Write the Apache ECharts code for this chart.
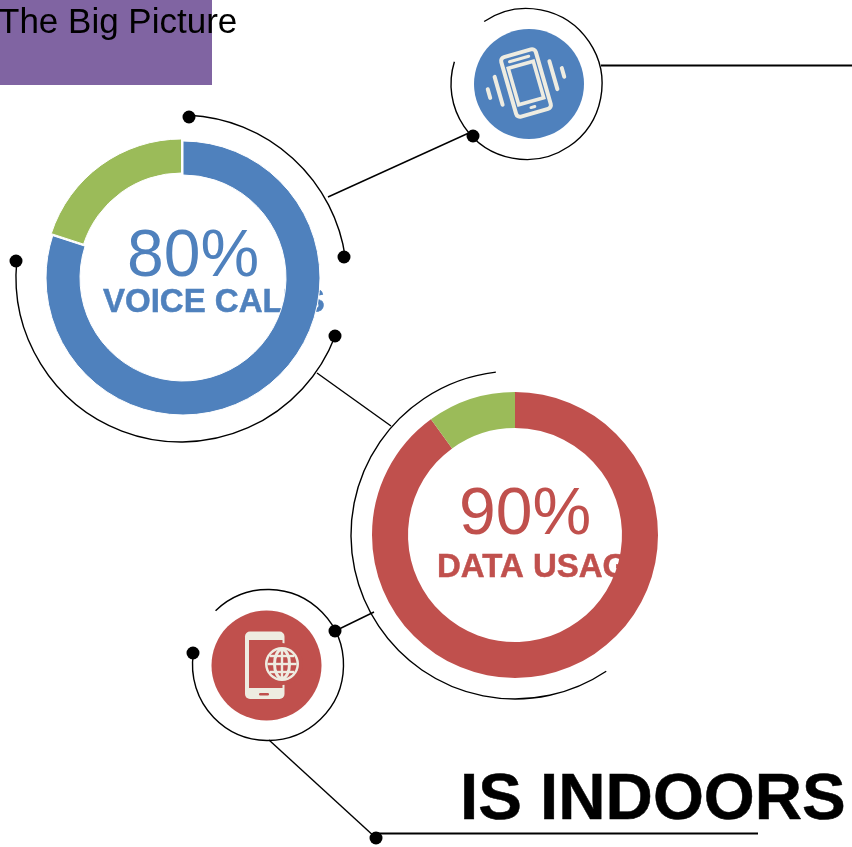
<!DOCTYPE html>
<html>
<head>
<meta charset="utf-8">
<style>html,body{margin:0;padding:0;background:#fff;overflow:hidden}#chart{width:852px;height:847px}</style>
<script src="https://cdn.jsdelivr.net/npm/echarts@6/dist/echarts.min.js"></script>
</head>
<body>
<div id="chart"></div>
<script>
// Share of activity that happens indoors, per usage type
const voiceSlices = ['Indoors', 'Outdoors'];
const voiceValues = [80, 20];
const dataSlices = ['Indoors', 'Outdoors'];
const dataValues = [90, 10];
const voiceLabel = 'VOICE CALLS';
const dataLabel = 'DATA USAGE';
const headline = 'IS INDOORS';
const pageTitle = 'The Big Picture';

const BLUE = '#4F81BD', RED = '#C0504D', GREEN = '#9BBB59', PURPLE = '#8064A2', CREAM = '#EEECE1';
const FONT = '"Liberation Sans", Arial, sans-serif';
const rad = d => d * Math.PI / 180;

const arc = (cx, cy, r, a0, a1) => ({
  type: 'arc', silent: true,
  shape: { cx, cy, r, startAngle: rad(a0), endAngle: rad(a1), clockwise: true },
  style: { fill: null, stroke: '#000', lineWidth: 1.4 }
});
const link = (x1, y1, x2, y2, lineWidth = 1.4) => ({
  type: 'line', silent: true,
  shape: { x1, y1, x2, y2 },
  style: { stroke: '#000', lineWidth }
});
const dot = (cx, cy) => ({
  type: 'circle', silent: true, shape: { cx, cy, r: 6.5 }, style: { fill: '#000' }
});
const text = (x, y, value, size, weight, fill) => ({
  type: 'text', silent: true, x, y,
  style: {
    text: value, fill, font: `${weight} ${size}px ${FONT}`, textVerticalAlign: 'bottom',
    stroke: weight === 'bold' ? fill : null, lineWidth: weight === 'bold' ? 0.5 : 0
  }
});

// Vibrating handset drawn around its own centre, tilted as a whole
const strokeBar = (x, h) => ({
  type: 'line', shape: { x1: x, y1: -h / 2, x2: x, y2: h / 2 },
  style: { stroke: CREAM, lineWidth: 4, lineCap: 'round' }
});
const vibratingPhone = {
  type: 'group', x: 526, y: 83, rotation: rad(16), silent: true,
  children: [
    { type: 'rect', shape: { x: -18, y: -31, width: 36, height: 62, r: 4 }, style: { fill: null, stroke: CREAM, lineWidth: 4 } },
    { type: 'rect', shape: { x: -13, y: -19, width: 26, height: 38 }, style: { fill: null, stroke: CREAM, lineWidth: 3.6 } },
    { type: 'line', shape: { x1: -10, y1: -25, x2: 10, y2: -25 }, style: { stroke: CREAM, lineWidth: 3, lineCap: 'round' } },
    { type: 'line', shape: { x1: -2, y1: 25, x2: 2, y2: 25 }, style: { stroke: CREAM, lineWidth: 3, lineCap: 'round' } },
    strokeBar(-28.5, 29), strokeBar(28.5, 29), strokeBar(-38.5, 9), strokeBar(38.5, 9)
  ]
};

// Handset with a globe over the lower right of its screen
const gx = 282, gy = 664;
const globeRim = 14.5;
const chord = dy => Math.sqrt(globeRim * globeRim - dy * dy);
const globeLine = (x1, y1, x2, y2) => ({
  type: 'line', shape: { x1, y1, x2, y2 }, style: { stroke: CREAM, lineWidth: 2.4 }
});
const globePhone = {
  type: 'group', silent: true,
  children: [
    { type: 'rect', shape: { x: 245, y: 631.5, width: 39.5, height: 67.5, r: 5 }, style: { fill: CREAM } },
    { type: 'rect', shape: { x: 249, y: 640, width: 33.5, height: 48 }, style: { fill: RED } },
    { type: 'rect', shape: { x: 259, y: 693, width: 10, height: 2.5, r: 1.2 }, style: { fill: RED } },
    { type: 'circle', shape: { cx: gx, cy: gy, r: 21 }, style: { fill: RED } },
    { type: 'circle', shape: { cx: gx, cy: gy, r: 17 }, style: { fill: CREAM } },
    { type: 'circle', shape: { cx: gx, cy: gy, r: globeRim }, style: { fill: RED } },
    { type: 'ellipse', shape: { cx: gx, cy: gy, rx: 7.5, ry: globeRim }, style: { fill: null, stroke: CREAM, lineWidth: 3 } },
    globeLine(gx, gy - globeRim, gx, gy + globeRim),
    globeLine(gx - globeRim, gy, gx + globeRim, gy),
    globeLine(gx - chord(8), gy - 8, gx + chord(8), gy - 8),
    globeLine(gx - chord(8), gy + 8, gx + chord(8), gy + 8)
  ]
};

const donut = (name, names, values, colors, center, radius, itemStyle, offset) => ({
  type: 'pie', name, center, radius,
  startAngle: 90, clockwise: true, avoidLabelOverlap: false,
  selectedMode: offset ? 'multiple' : false, selectedOffset: offset,
  label: { show: false }, labelLine: { show: false },
  emphasis: { disabled: true },
  itemStyle,
  data: values.map((value, i) => ({
    name: names[i], value, selected: !!offset && i === 1,
    itemStyle: { color: colors[i] }
  }))
});

const chart = echarts.init(document.getElementById('chart'), null, { renderer: 'canvas' });
chart.setOption({
  animation: false,
  backgroundColor: '#fff',
  tooltip: { show: false },
  series: [
    donut('Voice calls', voiceSlices, voiceValues, [BLUE, GREEN], [183, 278], [103, 137], { borderColor: '#fff', borderWidth: 1 }, 2.5),
    donut('Data usage', dataSlices, dataValues, [RED, GREEN], [515, 535], [107, 143], { borderWidth: 0 }, 0)
  ],
  graphic: [
    { type: 'rect', silent: true, shape: { x: 0, y: 0, width: 212, height: 85 }, style: { fill: PURPLE } },
    text(-2, 41, pageTitle, 35, 'normal', '#000'),

    arc(181, 281, 166, -87.2, -8),
    arc(181, 277, 165, 21, 185.5),
    arc(515, 535, 164, 56.2, 263.3),
    arc(526.5, 84, 75.5, -124.1, 197.2),
    arc(268, 665, 75.5, 226, 549),

    link(328, 197, 471, 132),
    link(317, 373, 391, 426),
    link(335, 631, 374, 612),
    link(269, 740, 376, 838),
    link(601, 65.5, 852, 65.5, 2),
    link(376, 833.5, 758, 833.5, 2),

    dot(189, 117), dot(344, 257), dot(16, 261), dot(335, 336),
    dot(473, 136), dot(193, 653), dot(335, 631), dot(376, 838),

    { type: 'circle', silent: true, shape: { cx: 529, cy: 84, r: 55 }, style: { fill: BLUE } },
    { type: 'circle', silent: true, shape: { cx: 266.5, cy: 665.5, r: 55 }, style: { fill: RED } },
    vibratingPhone,
    globePhone,

    text(127, 291, voiceValues[0] + '%', 66, 'normal', BLUE),
    text(103, 319, voiceLabel, 33, 'bold', BLUE),
    text(459, 549, dataValues[0] + '%', 66, 'normal', RED),
    text(437, 584, dataLabel, 33, 'bold', RED),
    text(460, 834, headline, 65.5, 'bold', '#000')
  ]
});
</script>
</body>
</html>
